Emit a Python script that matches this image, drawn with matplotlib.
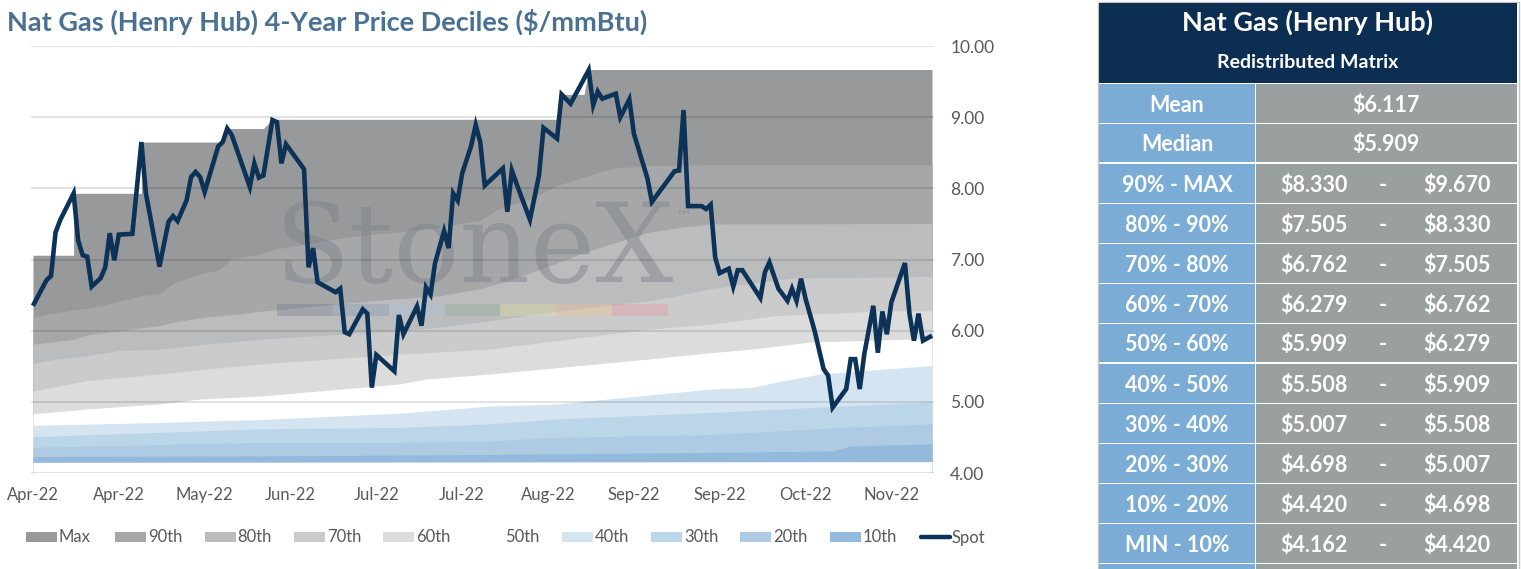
import numpy as np
import matplotlib
matplotlib.use('Agg')
import matplotlib.pyplot as plt
from matplotlib.patches import Rectangle
from matplotlib.lines import Line2D

plt.rcParams['font.family'] = ['Lato', 'DejaVu Sans']

# ------------------------------------------------------------------ data
title = 'Nat Gas (Henry Hub) 4-Year Price Deciles ($/mmBtu)'
x_labels = ['Apr-22', 'Apr-22', 'May-22', 'Jun-22', 'Jul-22', 'Jul-22',
            'Aug-22', 'Sep-22', 'Sep-22', 'Oct-22', 'Nov-22']
label_step = 19
n_days = 200
y_ticks = [4, 5, 6, 7, 8, 9, 10]

spot_idx = [0, 3, 4, 5, 6, 9, 10, 11, 12, 13,
            15, 16, 17, 18, 19, 22, 24, 25, 28, 30,
            31, 32, 34, 35, 36, 37, 38, 41, 42, 43,
            44, 48, 49, 50, 51, 53, 54, 55, 56, 60,
            61, 62, 63, 67, 68, 69, 70, 73, 74, 75,
            76, 80, 81, 82, 85, 86, 87, 88, 89, 91,
            92, 93, 94, 95, 97, 98, 99, 100, 104, 105,
            106, 107, 110, 112, 113, 116, 117, 119, 123, 124,
            125, 126, 129, 130, 132, 133, 136, 137, 142, 143,
            144, 145, 148, 149, 150, 151, 152, 154, 155, 156,
            157, 161, 162, 163, 165, 167, 168, 169, 170, 171,
            173, 175, 176, 177, 180, 181, 182, 183, 184, 186,
            187, 188, 189, 190, 193, 194, 195, 196, 197, 199]
spot_val = [6.35, 6.71, 6.77, 7.38, 7.55, 7.93, 7.27, 7.06, 7.04, 6.62,
            6.74, 6.89, 7.37, 6.99, 7.35, 7.36, 8.65, 7.93, 6.90, 7.53,
            7.61, 7.54, 7.83, 8.16, 8.23, 8.16, 7.95, 8.59, 8.65, 8.84,
            8.75, 8.02, 8.35, 8.15, 8.18, 8.96, 8.93, 8.35, 8.62, 8.27,
            6.89, 7.16, 6.68, 6.54, 6.59, 5.98, 5.95, 6.30, 6.24, 5.20,
            5.66, 5.43, 6.22, 5.95, 6.34, 6.07, 6.61, 6.51, 6.95, 7.40,
            7.16, 7.93, 7.83, 8.21, 8.60, 8.89, 8.65, 8.04, 8.28, 7.67,
            8.25, 8.07, 7.56, 8.18, 8.85, 8.70, 9.32, 9.19, 9.66, 9.17,
            9.36, 9.26, 9.33, 9.00, 9.25, 8.77, 8.14, 7.81, 8.24, 8.25,
            9.10, 7.75, 7.75, 7.71, 7.77, 7.03, 6.81, 6.87, 6.62, 6.85,
            6.85, 6.46, 6.82, 6.96, 6.59, 6.42, 6.59, 6.42, 6.73, 6.45,
            6.00, 5.46, 5.37, 4.92, 5.18, 5.60, 5.60, 5.18, 5.67, 6.35,
            5.69, 6.27, 5.95, 6.40, 6.95, 6.24, 5.86, 6.24, 5.86, 5.93]

max_idx = [0, 9, 9, 24, 24, 42, 43, 51, 53, 116, 117, 122, 123, 199]
max_val = [7.06, 7.06, 7.93, 7.93, 8.65, 8.65, 8.84, 8.84, 8.97, 8.97, 9.32, 9.32, 9.67, 9.67]

p90_idx = [0, 4, 15, 24, 28, 31, 37, 41, 44, 49, 54, 70, 86, 99, 103, 110, 116, 128, 136, 147, 199]
p90_val = [6.19, 6.24, 6.35, 6.49, 6.52, 6.66, 6.80, 6.85, 7.01, 7.06, 7.15, 7.32, 7.42, 7.55, 7.71,
           7.85, 8.04, 8.28, 8.32, 8.33, 8.33]

p80_idx = [0, 4, 9, 12, 19, 28, 31, 38, 45, 50, 75, 90, 99, 106, 116, 122, 136, 143, 150, 199]
p80_val = [5.81, 5.84, 5.88, 5.94, 6.00, 6.07, 6.12, 6.19, 6.23, 6.27, 6.42, 6.49, 6.59, 6.72, 6.95,
           7.10, 7.38, 7.45, 7.50, 7.505]

p70_idx = [0, 4, 12, 19, 28, 38, 44, 50, 81, 90, 99, 112, 136, 141, 150, 168, 199]
p70_val = [5.54, 5.59, 5.65, 5.72, 5.74, 5.81, 5.84, 5.88, 6.00, 6.05, 6.12, 6.24, 6.42, 6.47, 6.59,
           6.74, 6.762]

p60_idx = [0, 4, 12, 19, 28, 38, 50, 81, 101, 116, 136, 150, 164, 189, 199]
p60_val = [5.15, 5.20, 5.30, 5.34, 5.39, 5.46, 5.53, 5.67, 5.74, 5.86, 6.02, 6.09, 6.21, 6.28, 6.279]

p50_idx = [0, 12, 28, 37, 50, 81, 87, 101, 116, 136, 150, 159, 172, 199]
p50_val = [4.83, 4.90, 4.97, 5.04, 5.08, 5.25, 5.32, 5.39, 5.48, 5.60, 5.69, 5.74, 5.84, 5.89]

p40_idx = [0, 28, 50, 81, 101, 116, 150, 159, 164, 174, 199]
p40_val = [4.67, 4.71, 4.75, 4.84, 4.94, 4.97, 5.18, 5.20, 5.27, 5.39, 5.51]

p30_idx = [0, 50, 81, 101, 116, 150, 179, 199]
p30_val = [4.51, 4.62, 4.64, 4.69, 4.76, 4.85, 4.94, 5.00]

p20_idx = [0, 50, 81, 101, 116, 150, 179, 199]
p20_val = [4.36, 4.43, 4.43, 4.45, 4.50, 4.54, 4.64, 4.69]

p10_idx = [0, 50, 101, 116, 150, 177, 181, 199]
p10_val = [4.23, 4.24, 4.26, 4.27, 4.29, 4.31, 4.38, 4.41]

min_idx = [0, 199]
min_val = [4.15, 4.16]

band_names = ['Max', '90th', '80th', '70th', '60th', '50th', '40th', '30th', '20th', '10th']
band_idx = [max_idx, p90_idx, p80_idx, p70_idx, p60_idx, p50_idx, p40_idx, p30_idx, p20_idx, p10_idx]
band_val = [max_val, p90_val, p80_val, p70_val, p60_val, p50_val, p40_val, p30_val, p20_val, p10_val]
band_colors = ['#98999b', '#a6a7a9', '#bbbcbe', '#cbcbcb', '#dcdcdc', '#ffffff',
               '#d5e4f1', '#bbd5e9', '#aecbe3', '#93badc']
spot_color = '#0c3357'

table_title = 'Nat Gas (Henry Hub)'
table_subtitle = 'Redistributed Matrix'
stat_labels = ['Mean', 'Median']
stat_values = [6.117, 5.909]
range_labels = ['90% - MAX', '80% - 90%', '70% - 80%', '60% - 70%', '50% - 60%',
                '40% - 50%', '30% - 40%', '20% - 30%', '10% - 20%', 'MIN - 10%']
range_low = [8.330, 7.505, 6.762, 6.279, 5.909, 5.508, 5.007, 4.698, 4.420, 4.162]
range_high = [9.670, 8.330, 7.505, 6.762, 6.279, 5.909, 5.508, 5.007, 4.698, 4.420]

# ------------------------------------------------------------------ figure
W, H = 1521, 569
fig = plt.figure(figsize=(W / 100, H / 100), dpi=100)
fig.patch.set_facecolor('white')


def fx(px):
    return px / W


def fy(py):
    return 1 - py / H


ax = fig.add_axes([fx(30.7), fy(473), fx(934.3) - fx(30.7), fy(46) - fy(473)])
ax.set_xlim(-0.5, n_days - 0.5)
ax.set_ylim(4, 10)

for name, xi, yv, col in zip(band_names, band_idx, band_val, band_colors):
    ax.fill_between(xi, yv, 3.9, color=col, lw=0, zorder=1)
ax.fill_between(min_idx, min_val, 3.9, color='white', lw=0, zorder=1)

# watermark
tick_grey = '#595959'
ax.text(fx(275), fy(282), 'StoneX', transform=fig.transFigure, fontsize=79,
        family='DejaVu Serif', color='#7b8087', alpha=0.45, ha='left',
        va='baseline', zorder=2)
ax.text(fx(674), fy(218), '\u2122', transform=fig.transFigure, fontsize=13,
        family='DejaVu Sans', color='#7b8087', alpha=0.45, ha='left',
        va='center', zorder=2)
bar_cols = ['#667080', '#768eaf', '#a8c0de', '#87a88e', '#ebe898', '#fcc387', '#eb8798']
seg_w = (668 - 277) / len(bar_cols)
for k, c in enumerate(bar_cols):
    ax.add_patch(Rectangle((fx(277 + k * seg_w), fy(316)), seg_w / W, 12 / H,
                           transform=fig.transFigure, color=c, alpha=0.3,
                           lw=0, zorder=2))

ax.plot(spot_idx, spot_val, color=spot_color, lw=3.3, solid_joinstyle='miter',
        solid_capstyle='butt', zorder=3)

ax.set_axisbelow(False)
ax.yaxis.grid(True, color='black', alpha=0.15, lw=1.1)
ax.xaxis.grid(False)
for s in ax.spines.values():
    s.set_visible(False)
ax.yaxis.tick_right()
ax.set_yticks(y_ticks)
ax.set_yticklabels(['%.2f' % v for v in y_ticks])
ax.set_xticks(range(0, label_step * len(x_labels), label_step))
ax.set_xticklabels(x_labels)
ax.tick_params(axis='y', length=0, pad=11.5, labelsize=12.5, labelcolor=tick_grey)
ax.tick_params(axis='x', length=0, pad=10, labelsize=12, labelcolor=tick_grey)

# ------------------------------------------------------------------ overlay
ov = fig.add_axes([0, 0, 1, 1], zorder=5)
ov.set_xlim(0, W)
ov.set_ylim(H, 0)
ov.axis('off')

ov.text(7, 22, title, fontsize=19.5, fontweight='bold', color='#4a7092',
        ha='left', va='center')

# legend
leg_labels = band_names + ['Spot']
leg_cols = band_colors + [spot_color]
for i, (lab, col) in enumerate(zip(leg_labels, leg_cols)):
    x0 = 26 + i * 89.3
    if lab == 'Spot':
        ov.add_line(Line2D([x0 + 2, x0 + 31], [537, 537], color=col, lw=3.2,
                           solid_capstyle='round'))
    elif col != '#ffffff':
        ov.add_patch(Rectangle((x0, 532), 31, 10, color=col, lw=0))
    ov.text(x0 + 33, 537.5, lab, fontsize=12, color=tick_grey, ha='left', va='center')

# table
navy = '#0b2e52'
blue = '#7aacd6'
grey = '#99a09f'
TX0, TXM, TX1 = 1099, 1255, 1517
ov.add_patch(Rectangle((1097.5, 1.5), 421, 580, facecolor='white', edgecolor='#c6c6c6', lw=1))
ov.add_patch(Rectangle((TX0, 3), TX1 - TX0, 80, color=navy, lw=0))
ov.text((TX0 + TX1) / 2, 22, table_title, fontsize=19.5, fontweight='bold', color='white',
        ha='center', va='center')
ov.text((TX0 + TX1) / 2, 62, table_subtitle, fontsize=14, fontweight='bold', color='white',
        ha='center', va='center')

rows = []
for lab, v in zip(stat_labels, stat_values):
    rows.append((lab, ['$%.3f' % v]))
for lab, lo, hi in zip(range_labels, range_low, range_high):
    rows.append((lab, ['$%.3f' % lo, '-', '$%.3f' % hi]))

for i in range(len(rows) + 1):
    top = 84 + 40 * i
    h = 37.8 if i in (1, 6) else 38.7
    if i == len(rows):
        h = 20
    ov.add_patch(Rectangle((TX0, top), TXM - TX0, h, color=blue, lw=0))
    ov.add_patch(Rectangle((TXM + 1.3, top), TX1 - TXM - 1.3, h, color=grey, lw=0))
    if i == len(rows):
        break
    lab, vals = rows[i]
    cy = top + h / 2 + 2
    ov.text((TX0 + TXM) / 2, cy, lab, fontsize=15.5, fontweight='bold', color='white',
            ha='center', va='center')
    if len(vals) == 1:
        ov.text(1386, cy, vals[0], fontsize=15.5, fontweight='bold', color='white',
                ha='center', va='center')
    else:
        for xx, t in zip([1314, 1383, 1457], vals):
            ov.text(xx, cy, t, fontsize=15.5, fontweight='bold', color='white',
                    ha='center', va='center')

fig.savefig('out.png', dpi=100, facecolor='white')
